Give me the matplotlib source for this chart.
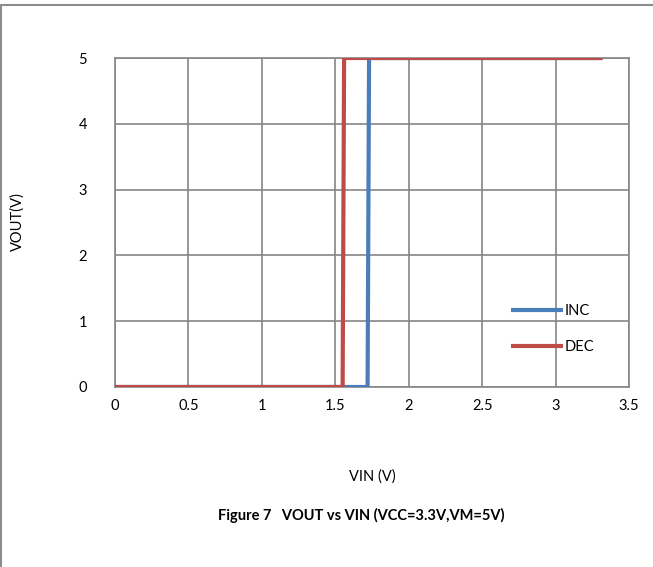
import matplotlib
matplotlib.use("Agg")
import matplotlib.pyplot as plt
from matplotlib.patches import Rectangle

inc_x = [0, 1.72, 1.73, 3.32]
inc_y = [0, 0, 5, 5]
dec_x = [0, 1.55, 1.56, 3.32]
dec_y = [0, 0, 5, 5]
xticks = [0, 0.5, 1, 1.5, 2, 2.5, 3, 3.5]
xtick_labels = ["0", "0.5", "1", "1.5", "2", "2.5", "3", "3.5"]
yticks = [0, 1, 2, 3, 4, 5]

plt.rcParams['font.family'] = ['Lato', 'DejaVu Sans']

fig = plt.figure(figsize=(6.53, 5.67), dpi=100)
ax = fig.add_axes([115/653, 180/567, 514/653, 329/567])

grid_c = '#868686'
ax.plot(inc_x, inc_y, color='#4A7EBB', lw=3, label='INC', solid_capstyle='butt', zorder=3)
ax.plot(dec_x, dec_y, color='#BE4B48', lw=3, label='DEC', solid_capstyle='butt', zorder=4)

ax.set_xlim(0, 3.5)
ax.set_ylim(0, 5)
ax.set_xticks(xticks)
ax.set_xticklabels(xtick_labels)
ax.set_yticks(yticks)
ax.grid(True, color=grid_c, lw=1.2)
ax.set_axisbelow(True)
for s in ax.spines.values():
    s.set_color(grid_c)
    s.set_linewidth(1.2)
ax.tick_params(length=0, labelsize=10.5, colors='black')
ax.tick_params(axis='x', pad=9)
ax.tick_params(axis='y', pad=20)

ax.set_xlabel('VIN (V)', fontsize=10.5, labelpad=40)
fig.text(18/653, 1 - 222/567, 'VOUT(V)', rotation=90, ha='center', va='center', fontsize=10.5)

fig.text(361/653, 1 - 515/567, 'Figure 7   VOUT vs VIN (VCC=3.3V,VM=5V)', ha='center', va='center',
         fontsize=10.5, fontweight='bold')

leg = ax.legend(loc='center left', frameon=False,
                fontsize=10.5, handlelength=3.6, handletextpad=0.1, labelspacing=1.5, borderaxespad=0)
leg.set_bbox_to_anchor((390/514, (387 - 329)/329))

fig.patches.append(Rectangle((1/653, -0.5), 2, 1 - 5/567 + 0.5, transform=fig.transFigure,
                             fill=False, edgecolor='#8C8C8C', lw=1.5))

fig.savefig('out.png', dpi=100)
